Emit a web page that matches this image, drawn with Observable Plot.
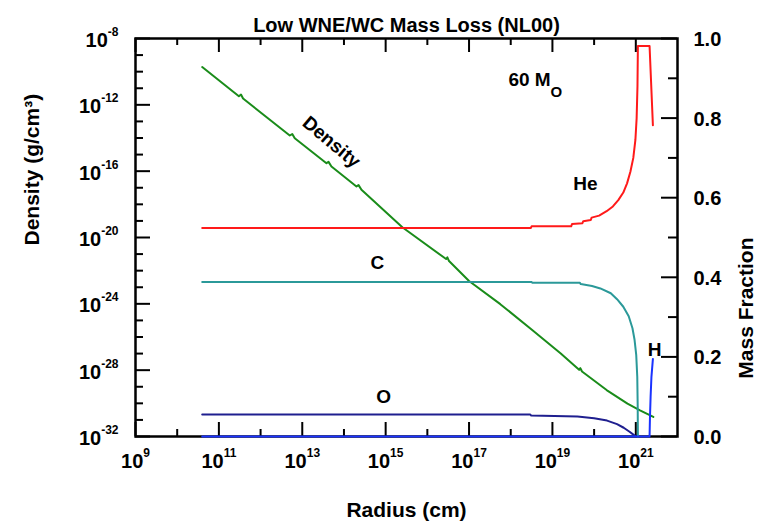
<!DOCTYPE html>
<html><head><meta charset="utf-8">
<script src="https://cdn.jsdelivr.net/npm/d3@7"></script>
<script src="https://cdn.jsdelivr.net/npm/@observablehq/plot@0.6"></script>
<style>
body{margin:0;background:#fff;}
#wrap{position:relative;width:763px;height:523px;}
#wrap svg{position:absolute;left:0;top:0;}
</style></head><body><div id="wrap"></div>
<script>
// ---- tick values ----
const xMajorExp = [9, 11, 13, 15, 17, 19, 21];
const xMinorExp = [10, 12, 14, 16, 18, 20];
const yMajorExp = [-8, -12, -16, -20, -24, -28, -32];
const yMinorExp = [-9, -10, -11, -13, -14, -15, -17, -18, -19, -21, -22, -23, -25, -26, -27, -29, -30, -31];
const fracMajor = [0, 0.2, 0.4, 0.6, 0.8, 1.0];
const fracMinor = [0.1, 0.3, 0.5, 0.7, 0.9];

// ---- series: [log10 radius, log10 density] ----
const densityPts = [[10.60,-9.72],[11.48,-11.48],[11.53,-11.38],[11.58,-11.62],[12.70,-13.85],[12.76,-13.76],[12.82,-14.02],
  [13.58,-15.52],[13.63,-15.44],[13.70,-15.72],[14.30,-16.92],[14.35,-16.84],[14.42,-17.12],[15.40,-19.38],
  [16.45,-21.30],[16.48,-21.20],[16.52,-21.42],[17.00,-22.62],[17.75,-24.02],[18.50,-25.55],[19.20,-27.00],
  [19.64,-27.98],[19.67,-27.88],[19.71,-28.08],[20.30,-29.20],[20.80,-30.02],[21.10,-30.42],[21.42,-30.82]];

// ---- series: [log10 radius, mass fraction] ----
const heFrac = [[10.60,0.524],[18.48,0.524],[18.50,0.528],[19.45,0.528],[19.47,0.534],[19.72,0.536],[19.74,0.541],
  [19.92,0.544],[19.94,0.550],[20.12,0.555],[20.30,0.566],[20.45,0.578],[20.58,0.594],[20.70,0.613],[20.79,0.636],
  [20.87,0.665],[20.94,0.700],[20.99,0.745],[21.02,0.800],[21.04,0.880],[21.05,0.981],[21.33,0.981],[21.41,0.782]];
const cFrac = [[10.60,0.388],[18.50,0.388],[18.52,0.386],[19.66,0.386],[19.68,0.383],[19.95,0.378],[20.15,0.372],
  [20.40,0.360],[20.55,0.345],[20.70,0.326],[20.83,0.302],[20.92,0.272],[20.97,0.243],[21.01,0.205],[21.035,0.150],
  [21.045,0.080],[21.05,0.000]];
const oFrac = [[10.60,0.055],[18.47,0.055],[18.49,0.053],[19.60,0.050],[20.00,0.046],[20.31,0.040],[20.55,0.031],
  [20.71,0.022],[20.85,0.012],[20.95,0.004],[21.00,0.000]];
const hFrac = [[10.60,0.0],[21.33,0.0],[21.34,0.05],[21.355,0.10],[21.375,0.15],[21.41,0.195]];

// ---- annotations ----
const fracLabels = [
  {t:"60 M_O", lr:18.59, f:0.895, a:"start"},
  {t:"He", lr:19.79, f:0.635, a:"start"},
  {t:"C", lr:14.80, f:0.436, a:"middle"},
  {t:"O", lr:14.95, f:0.100, a:"middle"},
  {t:"H", lr:21.45, f:0.2175, a:"start"}
];
const densityLabel = [{t:"Density", lr:13.70, lrho:-14.25}];

const W = 763, H = 523, mL = 135, mR = 86, mT = 38, mB = 87;
const FW = W - mL - mR, FH = H - mT - mB;
const font = "'Liberation Sans', Arial, sans-serif";
const pow = e => 10 ** e;
const expLabel = d => "10^" + Math.round(Math.log10(d));

const common = {
  width: W, height: H, marginLeft: mL, marginRight: mR, marginTop: mT, marginBottom: mB,
  x: {type: "log", domain: [1e9, 1e22], axis: null},
  style: {fontFamily: font, background: "transparent", fontWeight: "bold"}
};

const plotA = Plot.plot({
  ...common,
  y: {type: "log", domain: [1e-32, 1e-8], axis: null},
  marks: [
    Plot.line(densityPts, {x: d => pow(d[0]), y: d => pow(d[1]), stroke: "#1a8c1a", strokeWidth: 2}),
    Plot.tickX(xMajorExp.map(pow), {x: d => d, insetTop: FH - 14, strokeWidth: 2}),
    Plot.tickX(xMinorExp.map(pow), {x: d => d, insetTop: FH - 7, strokeWidth: 2}),
    Plot.tickX(xMajorExp.map(pow), {x: d => d, insetBottom: FH - 14, strokeWidth: 2}),
    Plot.tickX(xMinorExp.map(pow), {x: d => d, insetBottom: FH - 7, strokeWidth: 2}),
    Plot.tickY(yMajorExp.map(pow), {y: d => d, insetRight: FW - 15, strokeWidth: 2}),
    Plot.tickY(yMinorExp.map(pow), {y: d => d, insetRight: FW - 8, strokeWidth: 2}),
    Plot.text(xMajorExp.map(pow), {x: d => d, frameAnchor: "bottom", dy: 31, text: expLabel, fontSize: 20}),
    Plot.text(yMajorExp.map(pow), {y: d => d, frameAnchor: "left", dx: -17, dy: 2, textAnchor: "end", text: expLabel, fontSize: 20}),
    Plot.text(densityLabel, {x: d => pow(d.lr), y: d => pow(d.lrho), text: d => d.t, rotate: 40, fontSize: 19}),
    Plot.text(["Low WNE/WC Mass Loss (NL00)"], {frameAnchor: "top", dy: -21, text: d => d, fontSize: 20}),
    Plot.text(["Radius (cm)"], {frameAnchor: "bottom", dy: 80, text: d => d, fontSize: 21}),
    Plot.text(["Density (g/cm³)"], {frameAnchor: "left", dx: -103, dy: 8, rotate: -90, text: d => d, fontSize: 21})
  ]
});

const plotB = Plot.plot({
  ...common,
  y: {type: "linear", domain: [0, 1], axis: null},
  marks: [
    Plot.frame({stroke: "black", strokeWidth: 2.5}),
    Plot.tickY(fracMajor, {y: d => d, insetLeft: FW - 16, strokeWidth: 2}),
    Plot.tickY(fracMinor, {y: d => d, insetLeft: FW - 9, strokeWidth: 2}),
    Plot.text(fracMajor, {y: d => d, frameAnchor: "right", dx: 16, dy: 1, textAnchor: "start", text: d => d.toFixed(1), fontSize: 20}),
    Plot.text(["Mass Fraction"], {frameAnchor: "right", dx: 69, rotate: -90, text: d => d, fontSize: 21}),
    Plot.line(oFrac, {x: d => pow(d[0]), y: d => d[1], stroke: "#1f1f8f", strokeWidth: 2}),
    Plot.line(cFrac, {x: d => pow(d[0]), y: d => d[1], stroke: "#2b9999", strokeWidth: 2}),
    Plot.line(heFrac, {x: d => pow(d[0]), y: d => d[1], stroke: "#ff1a1a", strokeWidth: 2}),
    Plot.line(hFrac, {x: d => pow(d[0]), y: d => d[1], stroke: "#1a33ff", strokeWidth: 2}),
    Plot.text(fracLabels, {x: d => pow(d.lr), y: d => d.f, text: d => d.t, textAnchor: d => d.a, fontSize: 19})
  ]
});

function richText(svg) {
  d3.select(svg).selectAll("text").each(function () {
    const t = this.textContent;
    const m = t.match(/^(.*?)([\^_])(.+)$/);
    if (!m) return;
    const sel = d3.select(this);
    sel.text(null);
    sel.append("tspan").text(m[1]);
    if (m[2] === "^") sel.append("tspan").attr("font-size", 12).attr("dy", -11).text(m[3]);
    else sel.append("tspan").attr("font-size", 15).attr("dy", 11).text(m[3]);
  });
}
richText(plotA); richText(plotB);
const wrap = document.getElementById("wrap");
wrap.appendChild(plotA);
wrap.appendChild(plotB);
</script></body></html>
